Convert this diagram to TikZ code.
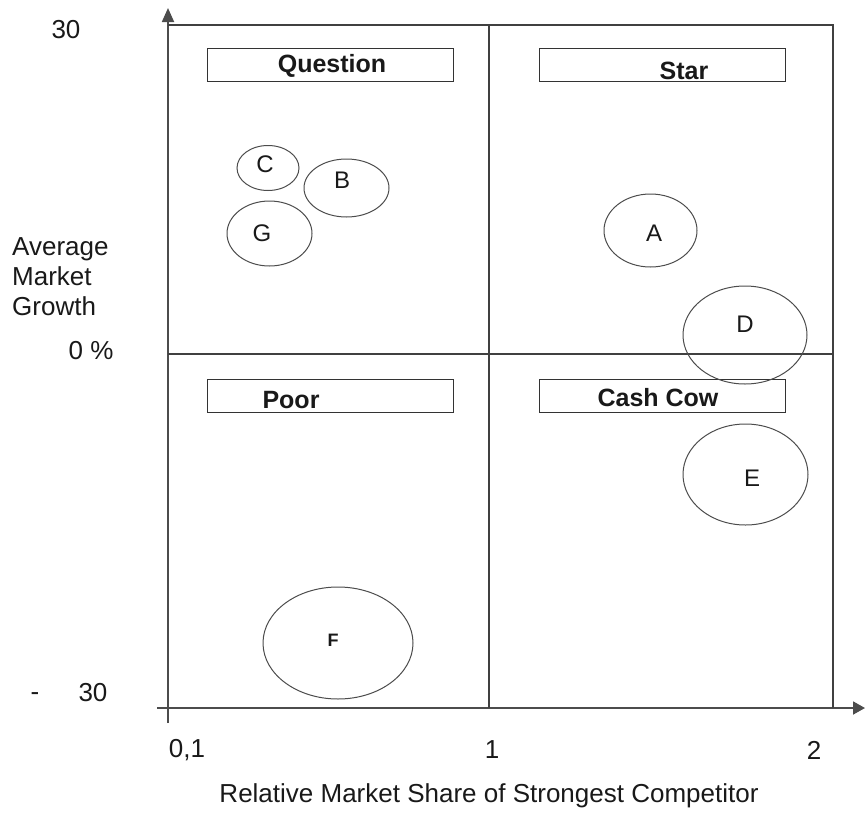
\documentclass[tikz,border=0pt]{standalone}
\usepackage{fontspec}
\setmainfont{Liberation Sans}
\usetikzlibrary{arrows.meta,shapes.geometric}
\begin{document}
\begin{tikzpicture}[x=1pt,y=-1pt,
  txt/.style={font=\fontsize{26}{30}\selectfont, text=black!90, inner sep=0pt},
  grid/.style={draw=black!75, line width=1.3pt},
  axis/.style={draw=black!70, line width=1.8pt},
  labelbox/.style={draw=black!80, line width=1.3pt, rectangle, minimum width=246pt, minimum height=33pt, inner sep=0pt, anchor=north west},
  boxtext/.style={font=\fontsize{25}{30}\selectfont\bfseries, text=black!90, inner sep=0pt},
  bubble/.style={draw=black!70, line width=1pt, ellipse, inner sep=0pt},
  bubtext/.style={font=\fontsize{24}{28}\selectfont, text=black!90, inner sep=0pt}]
\useasboundingbox (0,0) rectangle (865,814);
% axes
\coordinate (ybot) at (168,723);
\coordinate (ytop) at (168,8);
\coordinate (xleft) at (157,708);
\coordinate (xright) at (865,708);
\draw[axis, -{Triangle[length=14pt,width=12pt]}] (ybot) -- (ytop);
\draw[axis, -{Triangle[length=12pt,width=13pt]}] (xleft) -- (xright);
% grid
\coordinate (tl) at (168,25);
\coordinate (tr) at (833,25);
\coordinate (br) at (833,708);
\coordinate (mt) at (489,25);
\coordinate (mb) at (489,708);
\coordinate (ml) at (168,354);
\coordinate (mr) at (833,354);
\draw[grid] (tl) -- (tr) -- (br);
\draw[grid] (mt) -- (mb);
\draw[grid] (ml) -- (mr);
% quadrant label boxes
\node[labelbox] (qbox) at (207,48) {};
\node[labelbox] (sbox) at (539,48) {};
\node[labelbox] (pbox) at (207,379) {};
\node[labelbox] (cbox) at (539,379) {};
\node[boxtext] (qtxt) at (332,66) {Question};
\node[boxtext] (stxt) at (684,71) {Star};
\node[boxtext] (ptxt) at (291,400) {Poor};
\node[boxtext] (ctxt) at (658,398) {Cash Cow};
% bubbles
\node[bubble, minimum width=62pt, minimum height=45pt] (bC) at (268,168) {};
\node[bubble, minimum width=85pt, minimum height=58pt] (bB) at (346.5,188) {};
\node[bubble, minimum width=85pt, minimum height=65pt] (bG) at (269.5,233.5) {};
\node[bubble, minimum width=93pt, minimum height=73pt] (bA) at (650.5,230.5) {};
\node[bubble, minimum width=124pt, minimum height=98pt] (bD) at (745,335) {};
\node[bubble, minimum width=125pt, minimum height=101pt] (bE) at (745.5,474.5) {};
\node[bubble, minimum width=150pt, minimum height=112pt] (bF) at (338,643) {};
\node[bubtext] (tC) at (265,164) {C};
\node[bubtext] (tB) at (342,180) {B};
\node[bubtext] (tG) at (262,233) {G};
\node[bubtext] (tA) at (654,233) {A};
\node[bubtext] (tD) at (745,324) {D};
\node[bubtext] (tE) at (752,478) {E};
\node[font=\fontsize{18}{20}\selectfont\bfseries, text=black!90, inner sep=0pt] (tF) at (333,640) {F};
% axis labels
\node[txt] (y30) at (66,30) {30};
\node[txt, align=left, anchor=west] (ylab) at (12,277) {Average\\Market\\Growth};
\node[txt] (y0) at (91,351) {0 \%};
\node[txt] (ymin) at (35,697) {-};
\node[txt] (ym30) at (93,693) {30};
\node[txt] (x01) at (187,750) {0,1};
\node[txt] (x1) at (492,750) {1};
\node[txt] (x2) at (814,750) {2};
\node[txt] (xlab) at (489,796) {Relative Market Share of Strongest Competitor};
\end{tikzpicture}
\end{document}
